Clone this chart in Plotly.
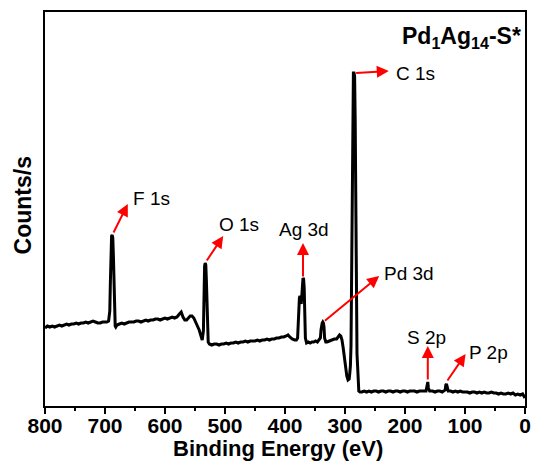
import plotly.graph_objects as go

# ---- data (binding energy in eV, counts in arbitrary units) ----
energy = [800, 796, 792, 788, 784, 780, 776, 772, 768, 764, 760, 756, 752, 748, 744, 740,
          736, 732, 728, 724, 720, 716, 712, 708, 704, 700, 697, 694, 692, 691, 690, 689,
          688, 687, 686, 685, 684, 683, 682, 680, 676, 672, 668, 664, 660, 656, 652, 648,
          644, 640, 636, 632, 628, 624, 620, 616, 612, 608, 604, 600, 596, 592, 588, 584,
          580, 576, 573, 570, 567, 564, 561, 558, 555, 552, 549, 546, 543, 540, 538, 536,
          535, 534, 533, 532, 531, 530, 529, 528, 526, 522, 518, 514, 510, 506, 502, 498,
          494, 490, 486, 482, 478, 474, 470, 466, 462, 458, 454, 450, 446, 442, 438, 434,
          430, 426, 422, 418, 414, 410, 406, 402, 398, 395, 392, 388, 384, 381, 379, 378,
          377, 376, 375, 374, 373, 372, 371, 370, 369, 368, 367, 366, 364, 361, 358, 355,
          352, 349, 346, 343, 341, 340, 339, 338, 337, 336, 335, 334, 332, 330, 326, 322,
          318, 314, 311, 309, 307, 305, 303, 301, 299, 297, 295, 293, 292, 291, 290, 289,
          288, 287, 286, 285, 284, 283, 282, 281, 280, 279, 278, 277, 275, 272, 268, 264,
          260, 256, 252, 248, 244, 240, 236, 232, 228, 224, 220, 216, 212, 208, 204, 200,
          196, 192, 188, 184, 180, 176, 172, 168, 165, 164, 163, 162, 161, 159, 154, 150,
          146, 142, 138, 134, 133, 132, 131, 130, 128, 124, 120, 116, 112, 108, 104, 100,
          96, 92, 88, 84, 80, 76, 72, 68, 64, 60, 56, 52, 48, 44, 40, 36,
          32, 28, 24, 20, 16, 12, 8, 4, 2, 0]
counts = [78, 80, 79, 80, 79, 80, 81, 80, 81, 82, 81, 82, 82, 83, 82, 83,
          83, 84, 83, 84, 85, 84, 83, 83, 84, 84, 84, 85, 95, 125, 163, 170,
          171, 168, 150, 115, 88, 80, 79, 81, 82, 83, 82, 83, 84, 84, 84, 85,
          85, 84, 85, 86, 85, 86, 86, 87, 87, 86, 87, 88, 87, 88, 89, 88,
          89, 92, 94, 89, 86, 86, 88, 90, 90, 88, 84, 80, 76, 70, 66, 75,
          115, 140, 143, 141, 125, 95, 72, 64, 62, 61, 62, 62, 61, 62, 62, 63,
          62, 63, 63, 64, 63, 64, 64, 65, 64, 65, 65, 65, 66, 65, 66, 66,
          67, 66, 67, 67, 68, 68, 69, 69, 70, 71, 69, 67, 66, 66, 68, 82,
          102, 108, 110, 106, 102, 110, 122, 128, 127, 118, 92, 68, 63, 64, 63, 64,
          64, 65, 64, 66, 68, 76, 81, 83, 84, 83, 79, 68, 64, 64, 65, 66,
          67, 67, 69, 71, 70, 66, 58, 48, 38, 30, 26, 27, 33, 40, 60, 150,
          260, 320, 333, 333, 330, 285, 160, 65, 52, 40, 22, 15, 14, 14, 15, 14,
          15, 14, 15, 15, 14, 15, 15, 14, 15, 15, 14, 15, 15, 14, 15, 15,
          14, 15, 15, 15, 14, 15, 15, 15, 15, 18, 24, 24, 18, 15, 15, 14,
          15, 15, 14, 15, 16, 21, 22, 20, 15, 15, 14, 15, 14, 15, 14, 14,
          14, 13, 14, 14, 13, 14, 13, 14, 13, 13, 14, 13, 13, 12, 13, 12,
          12, 13, 12, 13, 11, 12, 11, 12, 10, 8]

peak_labels = ["F 1s", "O 1s", "Ag 3d", "Pd 3d", "C 1s", "S 2p", "P 2p"]
peak_energy = [687, 532, 370, 336, 284, 162, 131]
peak_counts = [172, 144, 128, 84, 333, 25, 24]

x_ticks = [800, 700, 600, 500, 400, 300, 200, 100, 0]
sample_name = "Pd<sub>1</sub>Ag<sub>14</sub>-S*"

FONT = "Liberation Sans, Arial, sans-serif"
RED = "#ff0000"

fig = go.Figure()
fig.add_trace(go.Scatter(x=energy, y=counts, mode="lines",
                         line=dict(color="black", width=3), showlegend=False))

# arrow heads and label placement (data units)
arrow_heads = {
    "F 1s": (662, 202), "O 1s": (503, 170), "Ag 3d": (370, 163), "Pd 3d": (243, 130),
    "C 1s": (227, 335), "S 2p": (162, 60), "P 2p": (99, 52),
}
label_pos = {
    "F 1s": (657, 208, "left"), "O 1s": (513, 182, "left"), "Ag 3d": (369, 177, "center"),
    "Pd 3d": (238, 133, "left"), "C 1s": (219, 333, "left"), "S 2p": (164, 69, "center"),
    "P 2p": (96, 54, "left"),
}
for lab, pe, pc in zip(peak_labels, peak_energy, peak_counts):
    hx, hy = arrow_heads[lab]
    fig.add_annotation(x=hx, y=hy, ax=pe, ay=pc, xref="x", yref="y", axref="x", ayref="y",
                       text="", showarrow=True, arrowhead=2, arrowsize=1.2, arrowwidth=2,
                       arrowcolor=RED, standoff=0, startstandoff=0)
    tx, ty, anc = label_pos[lab]
    fig.add_annotation(x=tx, y=ty, xref="x", yref="y", text=lab, showarrow=False,
                       xanchor=anc, yanchor="middle",
                       font=dict(family=FONT, size=19, color="black"))

fig.add_annotation(x=0.995, y=0.935, xref="paper", yref="paper", text=sample_name,
                   showarrow=False, xanchor="right", yanchor="middle",
                   font=dict(family=FONT, size=23, color="black", weight="bold"))
fig.add_annotation(x=0.485, y=-0.107, xref="paper", yref="paper", text="Binding Energy (eV)",
                   showarrow=False, xanchor="center", yanchor="middle",
                   font=dict(family=FONT, size=22, color="black", weight="bold"))
fig.add_annotation(x=-0.045, y=0.51, xref="paper", yref="paper", text="Counts/s",
                   showarrow=False, textangle=-90, xanchor="center", yanchor="middle",
                   font=dict(family=FONT, size=23, color="black", weight="bold"))

fig.update_layout(
    width=538, height=463,
    margin=dict(l=45, r=7, t=12, b=57),
    paper_bgcolor="white", plot_bgcolor="white",
    font=dict(family=FONT, color="black"),
    xaxis=dict(range=[800, 0], tickvals=x_ticks, ticktext=[str(v) for v in x_ticks],
               ticks="outside", ticklen=6, tickwidth=2, tickcolor="black",
               ticklabelstandoff=-6,
               minor=dict(dtick=50, ticks="outside", ticklen=3, tickwidth=2, tickcolor="black"),
               showline=True, linewidth=2, linecolor="black", mirror=True,
               showgrid=False, zeroline=False,
               tickfont=dict(family=FONT, size=21, color="black", weight="bold")),
    yaxis=dict(range=[0, 394], showticklabels=False, ticks="",
               showline=True, linewidth=2, linecolor="black", mirror=True,
               showgrid=False, zeroline=False),
)

fig.write_html("out.html")
